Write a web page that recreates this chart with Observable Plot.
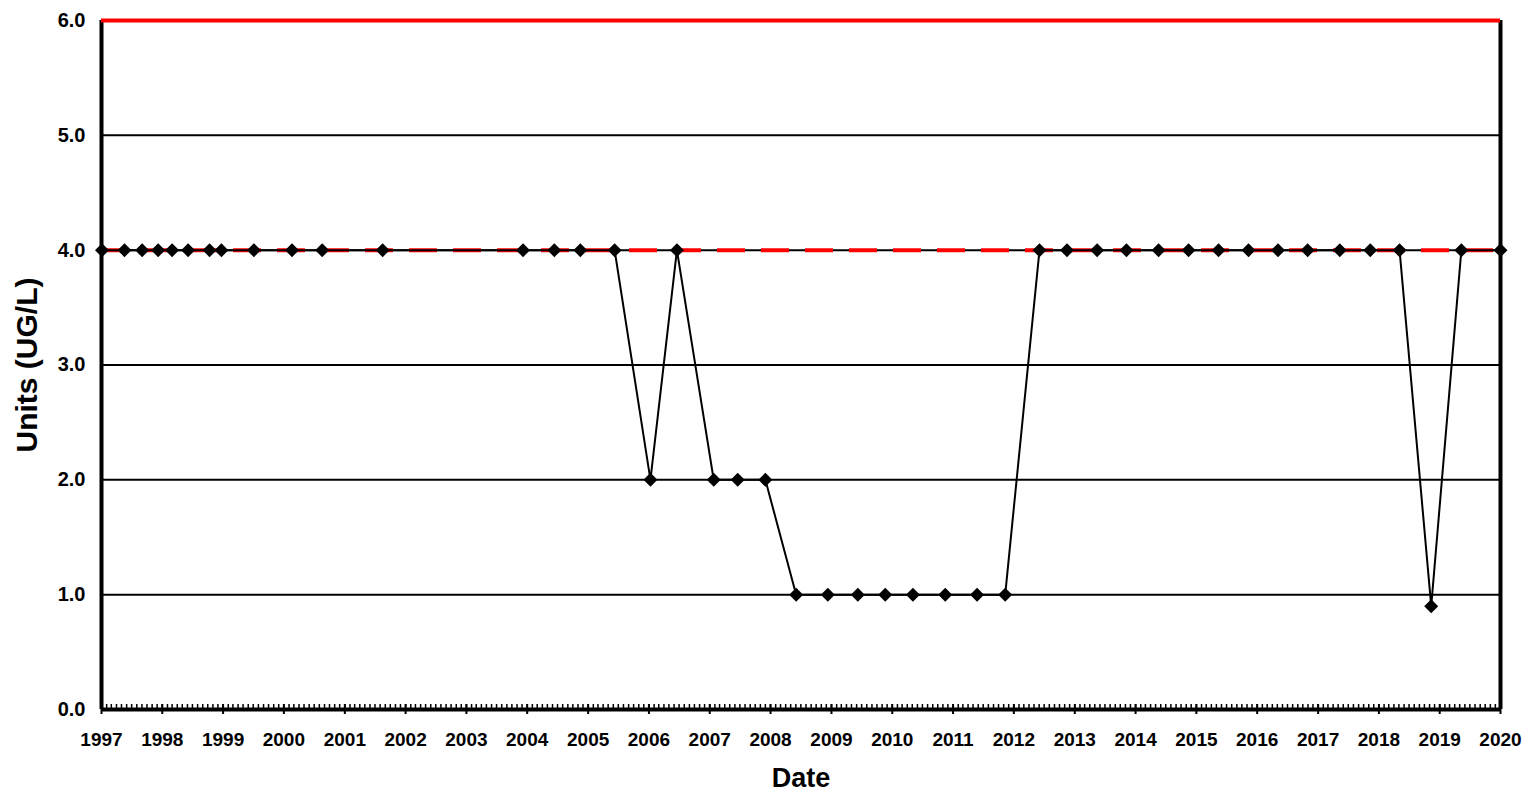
<!DOCTYPE html>
<html>
<head>
<meta charset="utf-8">
<script src="https://cdn.jsdelivr.net/npm/d3@7"></script>
<script src="https://cdn.jsdelivr.net/npm/@observablehq/plot@0.6"></script>
<style>
  html, body { margin: 0; padding: 0; background: #fff; }
  #chart svg { display: block; }
</style>
</head>
<body>
<div id="chart"></div>
<script>
// Sample dates and measured values (UG/L)
const sampleDates = [
  "1997-01-04","1997-05-19","1997-09-02","1997-12-07","1998-03-01","1998-06-05",
  "1998-10-12","1998-12-22","1999-07-05","2000-02-19","2000-08-18","2001-08-16",
  "2003-12-07","2004-06-12","2004-11-15","2005-06-09","2006-01-10","2006-06-18",
  "2007-01-25","2007-06-18","2007-12-01","2008-06-03","2008-12-10","2009-06-08",
  "2009-11-20","2010-05-05","2010-11-15","2011-05-25","2011-11-10","2012-06-03",
  "2012-11-15","2013-05-15","2013-11-07","2014-05-19","2014-11-15","2015-05-14",
  "2015-11-10","2016-05-05","2016-10-30","2017-05-11","2017-11-10","2018-05-05",
  "2018-11-11","2019-05-11","2020-01-01"
];
const sampleValues = [
  4,4,4,4,4,4,
  4,4,4,4,4,4,
  4,4,4,4,2,4,
  2,2,2,1,1,1,
  1,1,1,1,1,4,
  4,4,4,4,4,4,
  4,4,4,4,4,4,
  0.9,4,4
];
const limitDashed = [4.0];   // red dashed reference line
const limitSolid = [6.0];    // red solid reference line
const gridValues = [1, 2, 3, 4, 5];
const yTicks = [0, 1, 2, 3, 4, 5, 6];
const xStart = "1997-01-01";
const xEnd = "2020-01-01";
const yTitle = "Units (UG/L)";
const xTitle = "Date";

const data = sampleDates.map((d, i) => ({date: new Date(d + "T00:00:00Z"), value: sampleValues[i]}));
const x0 = new Date(xStart + "T00:00:00Z"), x1 = new Date(xEnd + "T00:00:00Z");
const years = d3.utcYear.range(x0, d3.utcYear.offset(x1, 1));
const months = d3.utcMonth.range(x0, x1);

const font = "'Liberation Sans', Arial, Helvetica, sans-serif";

const chart = Plot.plot({
  width: 1527,
  height: 799,
  marginLeft: 101,
  marginRight: 27,
  marginTop: 20,
  marginBottom: 90,
  style: {fontFamily: font, fontWeight: "bold", background: "#fff", color: "#000"},
  x: {type: "utc", domain: [x0, x1]},
  y: {domain: [0, 6]},
  marks: [
    Plot.ruleY(gridValues, {stroke: "#000", strokeWidth: 2}),
    Plot.ruleY(limitDashed, {stroke: "#ff0000", strokeWidth: 4, strokeDasharray: "28,16"}),
    Plot.line(data, {x: "date", y: "value", stroke: "#000", strokeWidth: 2}),
    Plot.dot(data, {x: "date", y: "value", symbol: "diamond2", fill: "#000", stroke: "none", r: 6.3}),
    // frame
    Plot.ruleX([x0, x1], {stroke: "#000", strokeWidth: 4}),
    Plot.ruleY([0], {stroke: "#000", strokeWidth: 4}),
    Plot.ruleY(limitSolid, {stroke: "#ff0000", strokeWidth: 4}),
    // minor monthly ticks (upward)
    Plot.ruleX(months, {x: d => d, y1: 0, y2: 0, insetTop: -5, stroke: "#000", strokeWidth: 1.5}),
    // major yearly ticks (crossing)
    Plot.ruleX(years, {x: d => d, y1: 0, y2: 0, insetTop: -5, insetBottom: -5, stroke: "#000", strokeWidth: 2}),
    Plot.axisY({ticks: yTicks, tickFormat: d3.format(".1f"), tickSize: 0, tickPadding: 16, fontSize: 20, fontWeight: "bold", label: null}),
    Plot.axisX({ticks: years, tickFormat: d3.utcFormat("%Y"), tickSize: 0, tickPadding: 23, fontSize: 19, fontWeight: "bold", label: null}),
    Plot.text([yTitle], {text: d => d, frameAnchor: "left", textAnchor: "middle", dx: -74, rotate: -90, fontSize: 30, fontWeight: "bold", fill: "#000"}),
    Plot.text([xTitle], {text: d => d, frameAnchor: "bottom", textAnchor: "middle", dy: 77, fontSize: 27, fontWeight: "bold", fill: "#000"})
  ]
});
document.getElementById("chart").appendChild(chart);
</script>
</body>
</html>
